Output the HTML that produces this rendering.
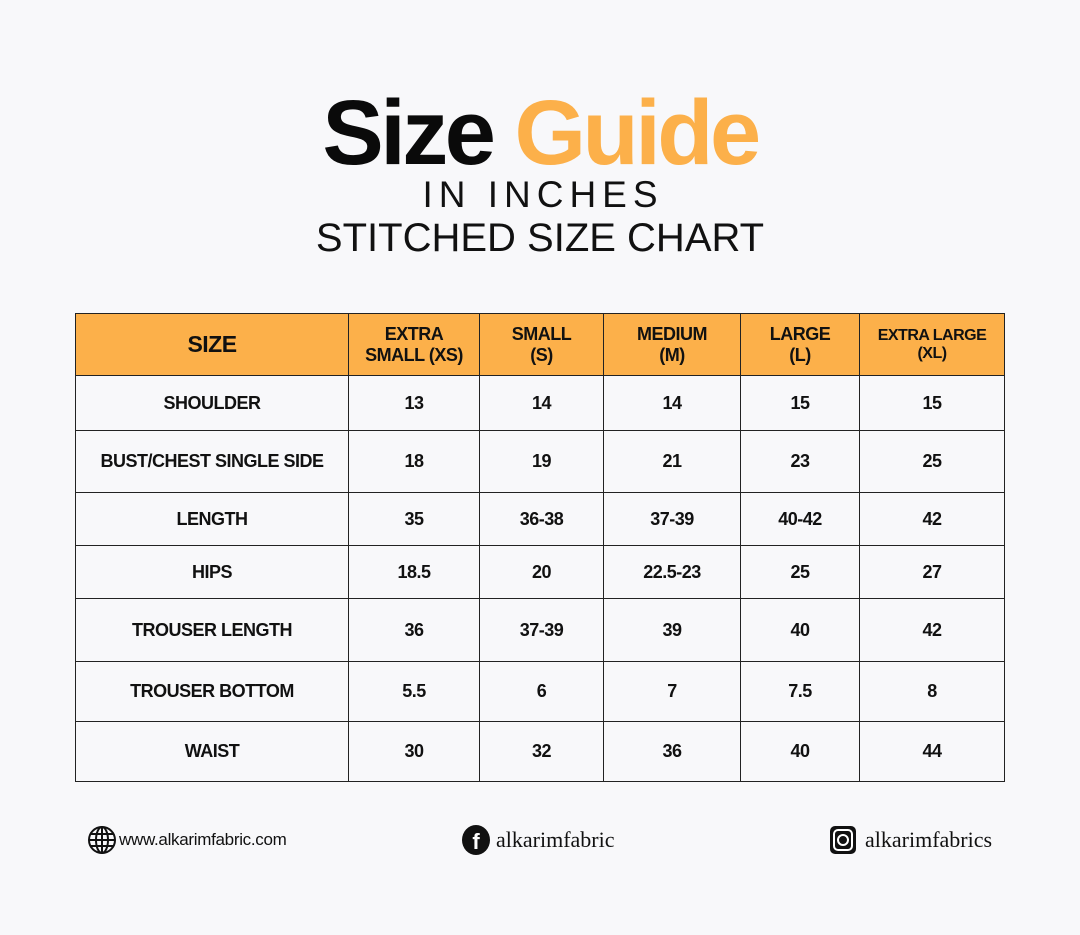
<!DOCTYPE html>
<html><head><meta charset="utf-8"><style>
body{margin:0;width:1080px;height:935px;background:#f8f8fa;position:relative;overflow:hidden;font-family:"Liberation Sans",sans-serif;}
.t{position:absolute;left:0;width:1080px;text-align:center;white-space:nowrap;}
table{position:absolute;left:75px;top:313px;border-collapse:collapse;}
td{border:1px solid #222;text-align:center;font-weight:bold;font-size:18px;color:#111;padding:0;letter-spacing:-0.5px;}
tr.h td{background:#fcb04a;}
.f{position:absolute;top:825px;font-size:18px;color:#111;display:flex;align-items:center;}
</style></head><body>
<div class="t" style="top:78px;font-size:92px;font-weight:bold;letter-spacing:-3.5px;line-height:110px;"><span style="color:#0a0a0a">Size</span> <span style="color:#fcb04a">Guide</span></div>
<div class="t" style="top:173px;font-size:37px;letter-spacing:6px;line-height:44px;color:#111;padding-left:6px;box-sizing:border-box">IN INCHES</div>
<div class="t" style="top:214px;font-size:40px;line-height:48px;color:#111;">STITCHED SIZE CHART</div>
<table>
<tr class="h" style="height:62px"><td style="width:272px;font-size:23px">SIZE</td><td style="width:130px">EXTRA<br>SMALL (XS)</td><td style="width:123px">SMALL<br>(S)</td><td style="width:136px">MEDIUM<br>(M)</td><td style="width:118px">LARGE<br>(L)</td><td style="width:144px;font-size:16px">EXTRA LARGE<br>(XL)</td></tr>
<tr style="height:55px"><td>SHOULDER</td><td>13</td><td>14</td><td>14</td><td>15</td><td>15</td></tr>
<tr style="height:62px"><td>BUST/CHEST SINGLE SIDE</td><td>18</td><td>19</td><td>21</td><td>23</td><td>25</td></tr>
<tr style="height:53px"><td>LENGTH</td><td>35</td><td>36-38</td><td>37-39</td><td>40-42</td><td>42</td></tr>
<tr style="height:53px"><td>HIPS</td><td>18.5</td><td>20</td><td>22.5-23</td><td>25</td><td>27</td></tr>
<tr style="height:63px"><td>TROUSER LENGTH</td><td>36</td><td>37-39</td><td>39</td><td>40</td><td>42</td></tr>
<tr style="height:60px"><td>TROUSER BOTTOM</td><td>5.5</td><td>6</td><td>7</td><td>7.5</td><td>8</td></tr>
<tr style="height:60px"><td>WAIST</td><td>30</td><td>32</td><td>36</td><td>40</td><td>44</td></tr>
</table>
<div class="f" style="left:87px;font-size:17px;letter-spacing:-0.3px">
<svg width="30" height="30" viewBox="0 0 30 30" style="margin-right:2px"><g fill="none" stroke="#111" stroke-width="2"><circle cx="15" cy="15" r="13"/><ellipse cx="15" cy="15" rx="6" ry="13"/><line x1="15" y1="2" x2="15" y2="28"/><line x1="2" y1="15" x2="28" y2="15"/><line x1="4" y1="9" x2="26" y2="9"/><line x1="4" y1="21" x2="26" y2="21"/></g></svg>www.alkarimfabric.com</div>
<div class="f" style="left:462px;font-family:'Liberation Serif',serif;font-size:22px">
<svg width="28" height="30" viewBox="0 0 28 30" style="margin-right:6px"><ellipse cx="14" cy="15" rx="14" ry="15" fill="#111"/><text x="14" y="24" font-size="22" font-weight="bold" fill="#fff" text-anchor="middle" font-family="Liberation Sans">f</text></svg>alkarimfabric</div>
<div class="f" style="left:829px;font-family:'Liberation Serif',serif;font-size:22px">
<svg width="28" height="30" viewBox="0 0 28 30" style="margin-right:8px"><rect x="1" y="1" width="26" height="28" rx="5" fill="#111"/><rect x="5" y="5" width="18" height="20" rx="4" fill="none" stroke="#fff" stroke-width="2"/><circle cx="14" cy="15" r="5" fill="none" stroke="#fff" stroke-width="2"/></svg>alkarimfabrics</div>
</body></html>
